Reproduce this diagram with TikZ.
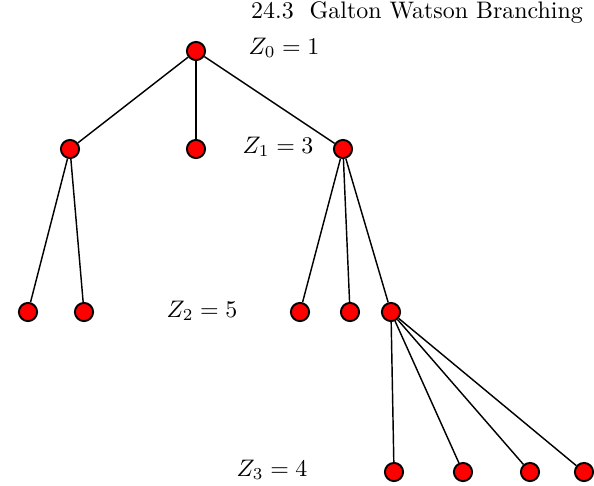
\documentclass[tikz,border=0pt]{standalone}
\usepackage{amsmath,amssymb}
\usepackage{tikz}
\usetikzlibrary{positioning}

\begin{document}
\begin{tikzpicture}[
    x=0.0147cm,
    y=-0.0147cm,
    indiv/.style={
        draw,
        circle,
        fill=red,
        thick,
        inner sep=0pt,
        minimum size=7.6pt
    },
    edge/.style={
        semithick
    },
    count/.style={
        inner sep=0pt
    }
]

\useasboundingbox (0,0) rectangle (594,485);

% Title
\node[count] (title) at (417,13) {24.3\ \ Galton Watson Branching};

% Generation 0
\node[indiv] (r) at (196,51) {};

% Generation 1
\node[indiv] (a) at (70,149) {};
\node[indiv] (b) at (196,149) {};
\node[indiv] (c) at (343,149) {};

% Generation 2
\node[indiv] (a1) at (28,312) {};
\node[indiv] (a2) at (84,312) {};
\node[indiv] (c1) at (300,312) {};
\node[indiv] (c2) at (350,312) {};
\node[indiv] (c3) at (391,312) {};

% Generation 3
\node[indiv] (d1) at (394,472) {};
\node[indiv] (d2) at (463,472) {};
\node[indiv] (d3) at (530,472) {};
\node[indiv] (d4) at (584,472) {};

% Generation sizes
\node[count] (z0) at (284,48) {$Z_0 = 1$};
\node[count] (z1) at (278,147) {$Z_1 = 3$};
\node[count] (z2) at (202,311) {$Z_2 = 5$};
\node[count] (z3) at (272,470) {$Z_3 = 4$};

% Edges
\foreach \p/\q in {r/a,r/b,r/c,a/a1,a/a2,c/c1,c/c2,c/c3,c3/d1,c3/d2,c3/d3,c3/d4}
    \draw[edge] (\p) -- (\q);

\end{tikzpicture}
\end{document}
